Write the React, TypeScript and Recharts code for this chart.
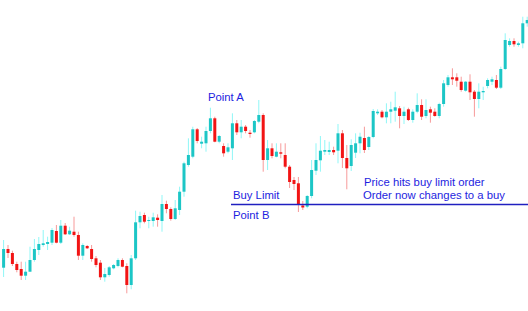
import React from "react";
import { ComposedChart, Bar, XAxis, YAxis, ReferenceLine, Customized } from "recharts";

// OHLC price levels per candle
const opens = [
  43.3, 62, 58, 47, 42, 35.3, 39.3, 51, 61, 66, 67, 68.3, 80, 68.3, 85.3, 76.7, 79.3, 76, 55.3, 65,
  62, 52.7, 48.3, 33.7, 36, 42.7, 45, 51, 45, 26, 52.7, 88.7, 96, 90, 90, 93.3, 90, 107, 102, 92,
  101, 119.3, 146, 154.3, 181.7, 167.3, 167.7, 180, 192.7, 169.3, 165, 159.3, 162.7, 187.7, 178.7, 184.3, 178.3, 178.7, 189.3, 196,
  151, 162.7, 154.3, 158.7, 156, 144.3, 131, 127.7, 105.5, 104.3, 115, 140.3, 150.7, 159.3, 159, 161, 160.3, 177.7, 153, 145,
  158.3, 167.7, 173, 164, 174, 197.7, 199.3, 193.7, 199.3, 200.3, 202.7, 195, 201.7, 191, 199.3, 206, 195, 201.7, 199.3, 195,
  207, 226, 233.7, 233.7, 229.3, 220.3, 229.3, 219.3, 212, 218.7, 225, 229.3, 231, 223.3, 242, 266, 270, 266, 267.7, 287.7,
];
const highs = [
  71, 66, 60.3, 49.3, 49.3, 49.3, 64.3, 72, 74, 81, 74.3, 83, 86, 91, 88, 84.3, 94.3, 79.3, 67.7, 66,
  66, 55, 51, 43, 45, 47, 52.7, 52.7, 47.7, 56, 100.3, 99.3, 98.3, 94.3, 98.3, 96.7, 116, 110.3, 103.7, 111,
  124.3, 149.3, 172.7, 184.3, 183, 174.3, 184.3, 203.3, 194.3, 176, 167.7, 167.7, 197.7, 191, 191, 186, 181, 191, 211, 197.7,
  171, 167.7, 167.7, 167.7, 167.7, 146, 134, 134, 110, 116, 151, 167.7, 175, 171, 169.3, 164.3, 187, 181, 166, 171.7,
  177.7, 178.3, 184.3, 175, 202, 201.7, 201, 207.7, 209.3, 219.3, 205, 204.3, 203.3, 201.7, 217.7, 211.7, 211.7, 204.3, 202.7, 208.3,
  231, 236, 242.7, 237.7, 234.3, 230, 236.7, 221, 227.7, 224.3, 232.7, 234.3, 236, 244.3, 277.7, 272.7, 272.7, 269.3, 294.3, 294.3,
];
const lows = [
  34, 53, 45, 38.7, 31, 31, 39.3, 49.3, 56, 64.3, 61, 66, 67.7, 67, 76, 76, 74.3, 51, 51, 62,
  49.3, 43.7, 31, 29.3, 34.3, 41.7, 43.7, 43.7, 17.7, 21.7, 51, 82.7, 87.7, 82.7, 84.3, 84.3, 79.3, 97.7, 90.3, 91,
  96, 114.3, 144.3, 152.7, 167.7, 162.7, 159.3, 177.7, 168.7, 167.7, 154.3, 157.7, 151, 176, 172.7, 177.7, 173.3, 177.7, 187.7, 139.3,
  141, 152.7, 153.7, 152.7, 142.7, 123, 121, 99, 101, 102.7, 112.7, 136, 139.3, 156, 156, 156, 147.7, 143, 121.7, 140,
  153, 157.7, 158, 161, 172.7, 196, 192.7, 187.7, 187.7, 189.3, 182.7, 187, 190, 188.3, 197.7, 191, 192.7, 188.3, 194.3, 192.7,
  204.3, 224.3, 226, 224.3, 219.3, 219.3, 211, 194.3, 202.7, 211, 222.7, 226, 222, 222, 241, 264.3, 264.3, 264.3, 262.7, 284.3,
];
const closes = [
  62, 58, 47, 41, 35.3, 39.3, 51, 62, 67, 67.7, 69, 81, 68.3, 85.3, 76.7, 80.3, 76, 55.3, 66, 62.7,
  52, 46, 33.7, 37, 43.7, 46, 51, 44.3, 26, 52.7, 88.7, 95, 89.3, 91, 93.7, 91, 107, 102, 92, 102.7,
  119.3, 147.7, 156, 181.7, 170, 169.3, 180, 192.7, 169.3, 175, 157.7, 163.7, 187.7, 178.7, 184.3, 180, 177, 190, 196, 151,
  162.7, 155, 159.3, 157.3, 144.3, 129, 127, 106, 103.5, 115, 141, 151, 160.3, 161, 161, 158.7, 177.7, 153, 142.7, 166,
  167.7, 174.3, 161, 174, 200, 199.3, 193.7, 199.3, 201.7, 203.7, 195, 199.3, 191, 199.3, 206, 194.3, 201, 198.3, 195, 207,
  227.7, 233.7, 231.7, 230.3, 221, 229.3, 218.7, 212, 219.3, 220, 231, 231.7, 223.3, 242, 271, 270, 266.7, 267.7, 287.7, 291,
];

const BUY_LIMIT_LEVEL = 106.5;
const BUY_LIMIT_START = 51.75;

const data = opens.map((o, i) => ({
  i,
  open: o,
  high: highs[i],
  low: lows[i],
  close: closes[i],
  range: [lows[i], highs[i]],
}));

const UP_BODY = "#1cc6c6";
const UP_WICK = "#8ff7f7";
const DOWN_BODY = "#f21414";
const DOWN_WICK = "#f79a9a";
const BLUE = "#1e1ee0";

const Candle = (props: any) => {
  const { x, y, width, height, payload } = props;
  if (x == null || y == null || !payload) return null;
  const top = Math.min(y, y + height);
  const h = Math.abs(height);
  const { open, high, low, close } = payload;
  const span = high - low || 1;
  const toY = (v: number) => top + ((high - v) / span) * h;
  const cx = x + width / 2;
  const up = close >= open;
  const bTop = toY(Math.max(open, close));
  const bBot = toY(Math.min(open, close));
  const bodyW = 3;
  return (
    <g>
      <line x1={cx} x2={cx} y1={top} y2={top + h} stroke={up ? UP_WICK : DOWN_WICK} strokeWidth={1} />
      <rect
        x={cx - bodyW / 2}
        y={bTop}
        width={bodyW}
        height={Math.max(bBot - bTop, 1)}
        fill={up ? UP_BODY : DOWN_BODY}
      />
    </g>
  );
};

const Notes = () => (
  <g fontFamily="Liberation Sans, Arial, sans-serif" fontSize={11.3} fill={BLUE}>
    <text x={208} y={101}>Point A</text>
    <text x={233} y={199}>Buy Limit</text>
    <text x={233} y={219}>Point B</text>
    <text x={364} y={186}>Price hits buy limit order</text>
    <text x={363} y={199}>Order now changes to a buy</text>
  </g>
);

export default function App() {
  return (
    <div style={{ position: "absolute", left: 0, top: 0, width: 528, height: 311, background: "#fff" }}>
      <ComposedChart width={528} height={311} data={data} margin={{ top: 0, right: 0, bottom: 0, left: 0 }}>
        <XAxis type="number" dataKey="i" domain={[-0.75, 119.25]} hide allowDataOverflow />
        <YAxis type="number" domain={[0, 311]} hide allowDataOverflow />
        <Bar dataKey="range" barSize={3} shape={<Candle />} isAnimationActive={false} />
        <ReferenceLine
          segment={[
            { x: BUY_LIMIT_START, y: BUY_LIMIT_LEVEL },
            { x: 119.25, y: BUY_LIMIT_LEVEL },
          ]}
          stroke="#2020c0"
          strokeWidth={1.3}
          ifOverflow="visible"
        />
        <Customized component={Notes} />
      </ComposedChart>
    </div>
  );
}
